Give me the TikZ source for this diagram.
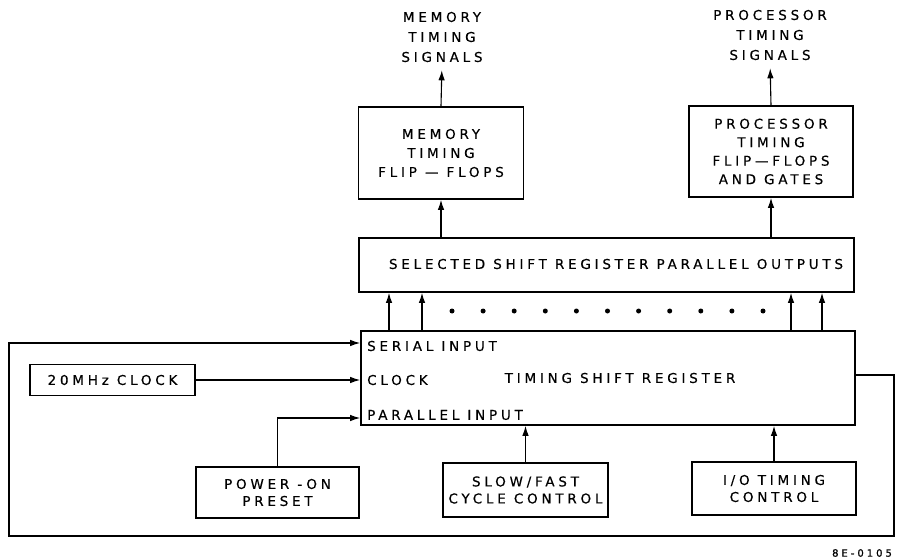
\documentclass[tikz,border=0pt]{standalone}
\usepackage{fontspec}
\usepackage{tikz}
\usetikzlibrary{arrows.meta}
\newfontfamily\letterfont[LetterSpace=28,FakeBold=0.4]{DejaVu Sans}
\newfontfamily\codefont[LetterSpace=30,FakeBold=1.2]{DejaVu Sans}

\begin{document}
\begin{tikzpicture}[x=1pt, y=-1pt, >={Latex[length=10pt,width=6.5pt]},
    block/.style={draw, line width=1.7pt, inner sep=0pt, align=center,
        font=\letterfont\fontsize{13.5}{19}\selectfont},
    lowblock/.style={block, font=\letterfont\fontsize{13.5}{17}\selectfont},
    lbl/.style={inner sep=0pt, align=center, font=\letterfont\fontsize{13.5}{20}\selectfont},
    sig/.style={->, line width=1.1pt}]
    \useasboundingbox (0,0) rectangle (897,559);

    % Outgoing timing signals
    \node[lbl] (memsig) at (442,37) {MEMORY\\TIMING\\SIGNALS};
    \node[lbl] (prosig) at (770,35) {PROCESSOR\\TIMING\\SIGNALS};

    % Flip-flop blocks
    \node[block, minimum width=165pt, minimum height=92pt] (mem) at (441,153)
        {MEMORY\\TIMING\\FLIP — FLOPS};
    \node[block, minimum width=164pt, minimum height=91pt, font=\letterfont\fontsize{13.5}{18.5}\selectfont]
        (pro) at (771,151.5) {PROCESSOR\\TIMING\\FLIP—FLOPS\\AND GATES};

    % Selected parallel outputs
    \node[block, minimum width=495pt, minimum height=54pt] (sel) at (606.5,265) {};
    \node[lbl] (seltxt) at (616,264) {SELECTED SHIFT REGISTER PARALLEL OUTPUTS};

    % Timing shift register
    \node[block, minimum width=494pt, minimum height=94pt] (tsr) at (608,378) {};
    \node[lbl] (tsrtxt) at (620,378) {TIMING SHIFT REGISTER};
    \node[lbl, anchor=west] (serin) at (367,346) {SERIAL INPUT};
    \node[lbl, anchor=west] (clkin) at (367,380) {CLOCK};
    \node[lbl, anchor=west] (parin) at (367,415) {PARALLEL INPUT};

    % Input blocks
    \node[block, minimum width=165pt, minimum height=31pt] (clk) at (112.5,380) {20MHz CLOCK};
    \node[lowblock, minimum width=163pt, minimum height=51pt] (pwr) at (277.5,492.5) {POWER -ON\\PRESET};
    \node[lowblock, minimum width=165pt, minimum height=54pt] (slow) at (525.5,490) {SLOW/FAST\\CYCLE CONTROL};
    \node[lowblock, minimum width=164pt, minimum height=53pt] (io) at (774,488.5) {I/O TIMING\\CONTROL};

    \node[inner sep=0pt, font=\codefont\fontsize{10}{11}\selectfont] (code) at (862,553) {8E-0105};

    % Signals up to the outputs
    \draw[sig, shorten >=8pt] (mem.north) -- (memsig.south);
    \draw[sig, shorten >=8pt] (pro.north) -- (prosig.south);
    \draw[sig] (sel.north -| mem) -- (mem.south);
    \draw[sig] (sel.north -| pro) -- (pro.south);
    \foreach \x in {389,422,791,822}
        \draw[sig] (tsr.north -| \x,0) -- (sel.south -| \x,0);
    \foreach \i in {0,...,10}
        \fill (452+31.1*\i,311) circle[radius=2.5pt];

    % Inputs to the shift register
    \draw[sig] (clk.east) -- (clk.east -| tsr.west);
    \draw[sig] (pwr.north) |- (tsr.west |- 0,418);
    \draw[sig] (slow.north) -- (slow.north |- tsr.south);
    \draw[sig] (io.north) -- (io.north |- tsr.south);

    % Serial feedback loop
    \coordinate (fbR) at (894,536);
    \coordinate (fbL) at (9,343);
    \draw[sig] (tsr.east |- 0,375) -| (fbR) -| (fbL) -- (tsr.west |- fbL);
\end{tikzpicture}
\end{document}
